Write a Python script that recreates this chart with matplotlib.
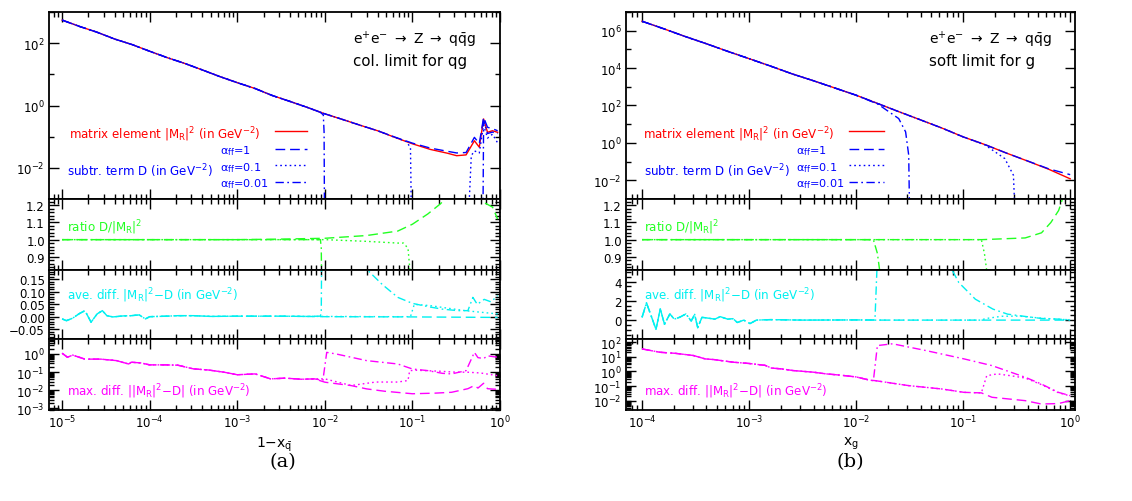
import numpy as np
import matplotlib
matplotlib.use('Agg')
import matplotlib.pyplot as plt
from matplotlib.ticker import (LogLocator, LogFormatterMathtext, MultipleLocator,
                               FuncFormatter, NullFormatter)

plt.rcParams['font.family'] = 'DejaVu Sans'
plt.rcParams['mathtext.fontset'] = 'dejavusans'
plt.rcParams['mathtext.default'] = 'regular'

# ---------------- (a) collinear limit, x = 1 - x_qbar ----------------
# top panel: |M_R|^2 and subtraction terms D (all coincide at small x)
a_x_head = [1e-5, 1.6e-5, 2.5e-5, 4e-5, 6.3e-5, 1e-4, 1.6e-4, 2.5e-4, 4e-4, 6.3e-4,
            1e-3, 1.6e-3, 2.5e-3, 4e-3, 6.3e-3]
a_me_head = [550, 340, 225, 135, 90, 55, 34, 22.5, 13.8, 8.5, 5.4, 3.5, 2.1, 1.35, 0.87]
a_me_tail_x = [1e-2, 1.6e-2, 2.5e-2, 4e-2, 6.3e-2, 0.1, 0.16, 0.25, 0.32, 0.41, 0.51, 0.58,
               0.65, 0.72, 0.82, 0.94]
a_me_tail = [0.54, 0.355, 0.235, 0.155, 0.095, 0.059, 0.039, 0.0295, 0.0245, 0.026, 0.074,
             0.046, 0.37, 0.138, 0.155, 0.138]
a_d1_tail = [0.54, 0.355, 0.235, 0.155, 0.097, 0.062, 0.043, 0.034, 0.030, 0.031, 0.095,
             0.06, 0.42, 0.2, 0.18, 0.155]
a_d01_tail_x = [1e-2, 1.6e-2, 2.5e-2, 4e-2, 6.3e-2, 8.5e-2, 9.5e-2, 0.1, 0.40, 0.47, 0.51,
                0.58, 0.65, 0.72, 0.82, 0.94]
a_d01_tail = [0.54, 0.355, 0.235, 0.155, 0.095, 0.07, 0.045, 1e-6, 1e-6, 0.0245, 0.035,
              0.03, 0.24, 0.09, 0.12, 0.063]
a_d001_tail_x = [8.9e-3, 9.6e-3, 9.8e-3, 1.0e-2, 0.63, 0.65, 0.72, 0.82, 0.94]
a_d001_tail = [0.6, 0.5, 0.14, 1e-6, 1e-6, 0.32, 0.126, 0.14, 0.126]

# ratio D/|M_R|^2
a_r1_x = [1e-5, 1e-3, 3e-3, 1e-2, 3e-2, 6.8e-2, 0.1, 0.15, 0.21, 0.25, 0.4, 0.6, 0.66, 0.82, 0.94]
a_r1 = [1.0, 1.0, 1.003, 1.008, 1.024, 1.05, 1.09, 1.15, 1.21, 1.25, 1.45, 1.3, 1.216, 1.19, 1.12]
a_r01_x = [1e-5, 1e-2, 3e-2, 6.8e-2, 7.9e-2, 8.9e-2, 9.3e-2, 9.6e-2]
a_r01 = [1.0, 1.0, 0.99, 0.98, 0.98, 0.95, 0.84, 0.5]
a_r001_x = [1e-5, 8.9e-3, 9.1e-3, 9.3e-3]
a_r001 = [1.0, 1.0, 0.95, 0.5]

# average difference
a_ave_x_head = [1.0e-5, 1.12e-5, 1.32e-5, 1.55e-5, 1.82e-5, 2.14e-5, 2.51e-5, 2.88e-5, 3.24e-5,
                3.8e-5, 5.0e-5, 6.17e-5, 7.59e-5, 8.91e-5, 1e-4, 1.58e-4, 2.09e-4, 3.16e-4,
                5.0e-4, 1e-3, 3.16e-3, 6.0e-3]
a_ave_head = [-0.008, -0.015, -0.005, 0.012, 0.025, -0.021, 0.012, 0.025, 0.005, 0.0, 0.004,
              0.005, 0.008, -0.008, 0.001, 0.003, 0.005, 0.005, 0.002, 0.003, 0.003, 0.002]
a_ave1_tail_x = [1e-2, 0.1, 0.3, 0.94]
a_ave1_tail = [0.001, 0.0, -0.001, -0.002]
a_ave01_tail_x = [1e-2, 5e-2, 9.5e-2, 0.105, 0.16, 0.25, 0.4, 0.63, 0.94]
a_ave01_tail = [0.002, 0.001, 0.001, 0.05, 0.045, 0.035, 0.025, 0.018, 0.012]
a_ave001_tail_x = [8.9e-3, 9.1e-3, 9.5e-3, 1.6e-2, 2.5e-2, 3.0e-2, 4.5e-2, 6.8e-2, 0.1, 0.15,
                   0.22, 0.33, 0.43, 0.49, 0.55, 0.66, 0.79, 0.94]
a_ave001_tail = [0.003, 0.02, 1.0, 0.4, 0.25, 0.19, 0.13, 0.078, 0.054, 0.041, 0.031, 0.025,
                 0.025, 0.078, 0.05, 0.07, 0.06, 0.085]

# maximal difference
a_max_x_head = [1e-5, 1.15e-5, 1.32e-5, 1.82e-5, 2.75e-5, 4.17e-5, 5.75e-5, 6.17e-5, 7.94e-5,
                1e-4, 1.5e-4, 2.09e-4, 3.16e-4, 4.68e-4, 7.08e-4, 1e-3, 1.6e-3, 2.4e-3,
                3.55e-3, 5.4e-3, 7.6e-3]
a_max_head = [1.1, 0.66, 0.87, 0.52, 0.52, 0.43, 0.28, 0.35, 0.32, 0.25, 0.25, 0.24, 0.15,
              0.13, 0.098, 0.071, 0.079, 0.042, 0.046, 0.04, 0.042]
a_max1_tail_x = [1e-2, 2e-2, 3e-2, 4.8e-2, 0.1, 0.18, 0.28, 0.43, 0.51, 0.56, 0.65, 0.72, 0.94]
a_max1_tail = [0.0275, 0.0178, 0.0117, 0.0087, 0.0063, 0.0068, 0.0076, 0.012, 0.018, 0.013,
               0.024, 0.012, 0.011]
a_max01_tail_x = [1e-2, 2e-2, 3.8e-2, 6.8e-2, 8.9e-2, 9.3e-2, 0.11, 0.2, 0.3, 0.43, 0.6, 0.94]
a_max01_tail = [0.042, 0.018, 0.028, 0.028, 0.034, 0.12, 0.126, 0.112, 0.1, 0.098, 0.089, 0.063]
a_max001_tail_x = [9.5e-3, 1.05e-2, 1.35e-2, 3.0e-2, 6.8e-2, 0.1, 0.15, 0.22, 0.28, 0.41, 0.51,
                   0.56, 0.65, 0.72, 0.94]
a_max001_tail = [0.035, 1.23, 1.0, 0.43, 0.28, 0.148, 0.12, 0.085, 0.079, 0.12, 1.23, 0.63,
                 0.56, 0.79, 0.66]

# ---------------- (b) soft limit, x = x_g ----------------
b_x_head = [1e-4, 1.6e-4, 2.5e-4, 4e-4, 6.3e-4, 1e-3, 1.6e-3, 2.5e-3, 4e-3, 6.3e-3, 1e-2]
b_me_head = [3.2e6, 1.26e6, 5.0e5, 2.0e5, 7.9e4, 3.2e4, 1.26e4, 5.0e3, 2.1e3, 870, 355]
b_me_tail_x = [1.6e-2, 2.5e-2, 4e-2, 6.3e-2, 0.1, 0.16, 0.25, 0.4, 0.63, 1.0]
b_me_tail = [126, 47, 17, 6.3, 2.1, 0.81, 0.295, 0.107, 0.039, 0.012]
b_d1_tail = [126, 47, 17, 6.3, 2.1, 0.81, 0.295, 0.108, 0.041, 0.02]
b_d01_tail_x = [1.6e-2, 2.5e-2, 4e-2, 6.3e-2, 0.1, 0.16, 0.245, 0.295, 0.316]
b_d01_tail = [126, 47, 17, 6.3, 2.1, 0.78, 0.145, 0.0186, 1e-6]
b_d001_tail_x = [1.6e-2, 2.5e-2, 2.9e-2, 3.1e-2, 3.2e-2]
b_d001_tail = [118, 20, 3.9, 0.22, 1e-6]

b_r1_x = [1e-4, 0.15, 0.38, 0.54, 0.66, 0.78, 0.83, 0.9]
b_r1 = [1.0, 1.0, 1.01, 1.04, 1.10, 1.17, 1.22, 1.3]
b_r01_x = [1e-4, 0.148, 0.158, 0.166, 0.17]
b_r01 = [1.0, 1.0, 0.92, 0.82, 0.5]
b_r001_x = [1e-4, 1.45e-2, 1.58e-2, 1.66e-2, 1.7e-2]
b_r001 = [1.0, 1.0, 0.92, 0.82, 0.5]

b_ave_x_head = [1.0e-4, 1.1e-4, 1.35e-4, 1.48e-4, 1.62e-4, 1.82e-4, 2.0e-4, 2.24e-4, 2.57e-4,
                2.88e-4, 3.1e-4, 3.31e-4, 3.63e-4, 4.17e-4, 4.79e-4, 5.37e-4, 6.31e-4, 7.08e-4,
                7.76e-4, 8.91e-4, 1.02e-3, 1.17e-3, 1.58e-3, 3.16e-3, 1.0e-2]
b_ave_head = [0.29, 1.79, -0.96, 1.18, -0.43, 0.64, 0.1, 0.29, 0.64, -0.1, 0.6, -0.79, 0.29,
              0.2, 0.1, 0.36, 0.1, 0.15, -0.25, 0.0, -0.36, 0.0, 0.05, 0.0, 0.02]
b_ave1_tail_x = [1.4e-2, 0.1, 1.0]
b_ave1_tail = [0.0, 0.0, 0.0]
b_ave01_tail_x = [1.4e-2, 0.148, 0.16, 0.23, 0.33, 0.54, 1.0]
b_ave01_tail = [0.0, 0.0, 0.15, 0.4, 0.42, 0.2, 0.02]
b_ave001_tail_x = [1.45e-2, 1.5e-2, 1.6e-2, 3e-2, 6e-2, 7.8e-2, 9.1e-2, 0.13, 0.19, 0.26, 0.38,
                   0.54, 0.78, 1.0]
b_ave001_tail = [0.02, 0.05, 8.0, 10.0, 7.0, 5.3, 3.9, 2.17, 1.14, 0.62, 0.38, 0.17, 0.1, 0.03]

b_max_x_head = [1e-4, 1.48e-4, 2.04e-4, 3.02e-4, 3.89e-4, 4.68e-4, 7.08e-4, 1e-3, 1.41e-3,
                1.62e-3, 2.0e-3, 2.57e-3, 3.98e-3, 5.25e-3, 7.08e-3, 1e-2, 1.35e-2]
b_max_head = [34.7, 20.4, 17.4, 12.3, 7.2, 6.5, 4.3, 3.5, 2.6, 1.7, 1.5, 1.15, 0.89, 0.68,
              0.56, 0.42, 0.25]
b_max1_tail_x = [1.51e-2, 3.09e-2, 6.31e-2, 0.102, 0.148, 0.186, 0.38, 0.537, 0.776, 1.0]
b_max1_tail = [0.234, 0.107, 0.063, 0.037, 0.034, 0.017, 0.01, 0.0059, 0.0063, 0.01]
b_max01_tail_x = [1.51e-2, 3.09e-2, 6.31e-2, 0.102, 0.148, 0.166, 0.209, 0.282, 0.38, 0.537,
                  0.776, 1.0]
b_max01_tail = [0.234, 0.107, 0.063, 0.037, 0.034, 0.51, 0.68, 0.5, 0.355, 0.126, 0.035, 0.021]
b_max001_tail_x = [1.45e-2, 1.58e-2, 2.19e-2, 4.47e-2, 0.102, 0.186, 0.38, 0.537, 0.776, 1.0]
b_max001_tail = [0.234, 59, 78, 27, 7.2, 2.5, 0.4, 0.138, 0.037, 0.022]

alpha_labels = [r'$\alpha_{\rm ff}$=1', r'$\alpha_{\rm ff}$=0.1', r'$\alpha_{\rm ff}$=0.01']

# ---------------- styles ----------------
RED, BLUE, GREEN, CYAN, MAGENTA = '#ff0000', '#0000ff', '#22ff22', '#00f0f0', '#ff00ff'
LS1 = (0, (7, 3.5))
LS01 = (0, (1.2, 2.2))
LS001 = (0, (6, 2.5, 1.2, 2.5))
LW = 1.0
TXT = 8.6
TICK = 8.5

W, H = 1132, 502
fig = plt.figure(figsize=(W / 100, H / 100), dpi=100)


def add_px_axes(x0, y0, x1, y1):
    return fig.add_axes([x0 / W, 1 - y1 / H, (x1 - x0) / W, (y1 - y0) / H])


def cat(*parts):
    return np.concatenate([np.asarray(p, dtype=float) for p in parts])


def style(ax, xlim, bottom):
    ax.set_xscale('log')
    ax.set_xlim(*xlim)
    ax.xaxis.set_major_locator(LogLocator(base=10, numticks=12))
    ax.xaxis.set_minor_locator(LogLocator(base=10, subs=np.arange(2, 10), numticks=12))
    ax.xaxis.set_major_formatter(LogFormatterMathtext(base=10))
    ax.xaxis.set_minor_formatter(NullFormatter())
    ax.tick_params(which='both', direction='in', top=True, right=True, width=1.0,
                   labelsize=TICK, colors='black')
    ax.tick_params(which='major', length=7.5, pad=3)
    ax.tick_params(which='minor', length=3.5)
    for s in ax.spines.values():
        s.set_linewidth(1.3)
    if not bottom:
        ax.tick_params(labelbottom=False)


def minus_fmt(fmt):
    return FuncFormatter(lambda v, p: (fmt % v).replace('-', '\u2212'))


def draw_column(x0, x1, xlim, d, top_ylim, ave_ylim, ave_step, ave_fmt, max_ylim, xlabel):
    rows = [(13, 200), (200, 271), (271, 340), (340, 411)]
    ax_top, ax_r, ax_a, ax_m = [add_px_axes(x0, r0, x1, r1) for r0, r1 in rows]

    # top: matrix element and subtraction terms
    ax_top.set_yscale('log')
    ax_top.plot(cat(d['xh'], d['me_tx']), cat(d['meh'], d['me_t']), color=RED, lw=LW)
    ax_top.plot(cat(d['xh'], d['me_tx']), cat(d['meh'], d['d1_t']), color=BLUE, lw=LW, ls=LS1)
    ax_top.plot(cat(d['xh'], d['d01_tx']), cat(d['meh'], d['d01_t']), color=BLUE, lw=LW, ls=LS01)
    ax_top.plot(cat(d['xh'], d['d001_tx']), cat(d['meh'], d['d001_t']), color=BLUE, lw=LW, ls=LS001)
    ax_top.set_ylim(*top_ylim)
    ax_top.yaxis.set_major_locator(LogLocator(base=100, numticks=12))
    ax_top.yaxis.set_minor_locator(LogLocator(base=10, subs=(1.0,), numticks=20))
    ax_top.yaxis.set_major_formatter(LogFormatterMathtext(base=10))
    ax_top.yaxis.set_minor_formatter(NullFormatter())

    # legend: label text to the left, line sample to the right
    kx0, kx1, tx_alpha, tx_me = d['key']
    tr = ax_top.transAxes
    ax_top.text(tx_me, 0.365, r'matrix element |M$_{\rm R}$|$^2$ (in GeV$^{-2}$)', transform=tr,
                color=RED, fontsize=TXT, ha='right', va='center_baseline')
    ax_top.plot([kx0, kx1], [0.365, 0.365], transform=tr, color=RED, lw=LW)
    for lab, ls, ky in zip(alpha_labels, (LS1, LS01, LS001), (0.27, 0.182, 0.093)):
        ax_top.text(tx_alpha, ky, lab, transform=tr, color=BLUE, fontsize=8.1,
                    ha='left', va='center_baseline')
        ax_top.plot([kx0, kx1], [ky, ky], transform=tr, color=BLUE, lw=LW, ls=ls)
    ax_top.text(0.04, 0.166, r'subtr. term D (in GeV$^{-2}$)', transform=tr,
                color=BLUE, fontsize=TXT, va='center_baseline')
    ax_top.text(0.674, 0.856, r'e$^{+}$e$^{-}$ $\rightarrow$ Z $\rightarrow$ q$\bar{\rm q}$g',
                transform=tr, fontsize=10, va='center')
    ax_top.text(0.674, 0.738, d['limit'], transform=tr, fontsize=10.8, va='center')

    # ratio
    ax_r.plot(d['r1_x'], d['r1'], color=GREEN, lw=LW, ls=LS1)
    ax_r.plot(d['r01_x'], d['r01'], color=GREEN, lw=LW, ls=LS01)
    ax_r.plot(d['r001_x'], d['r001'], color=GREEN, lw=LW, ls=LS001)
    ax_r.set_ylim(0.823, 1.237)
    ax_r.yaxis.set_major_locator(MultipleLocator(0.1))
    ax_r.yaxis.set_minor_locator(MultipleLocator(0.02))
    ax_r.yaxis.set_major_formatter(minus_fmt('%.1f'))
    ax_r.text(0.04, 0.65, r'ratio D/|M$_{\rm R}$|$^2$', transform=ax_r.transAxes,
              color=GREEN, fontsize=TXT, va='center_baseline')

    # average difference
    ax_a.plot(cat(d['ah_x'], d['a1_tx']), cat(d['ah'], d['a1_t']), color=CYAN, lw=LW, ls=LS1)
    ax_a.plot(cat(d['ah_x'], d['a01_tx']), cat(d['ah'], d['a01_t']), color=CYAN, lw=LW, ls=LS01)
    ax_a.plot(cat(d['ah_x'], d['a001_tx']), cat(d['ah'], d['a001_t']), color=CYAN, lw=LW, ls=LS001)
    ax_a.set_ylim(*ave_ylim)
    ax_a.yaxis.set_major_locator(MultipleLocator(ave_step[0]))
    ax_a.yaxis.set_minor_locator(MultipleLocator(ave_step[1]))
    ax_a.yaxis.set_major_formatter(minus_fmt(ave_fmt))
    ax_a.text(0.04, 0.68, r'ave. diff. |M$_{\rm R}$|$^2$$-$D (in GeV$^{-2}$)',
              transform=ax_a.transAxes, color=CYAN, fontsize=TXT, va='center_baseline')

    # maximal difference
    ax_m.set_yscale('log')
    ax_m.plot(cat(d['mh_x'], d['m1_tx']), cat(d['mh'], d['m1_t']), color=MAGENTA, lw=LW, ls=LS1)
    ax_m.plot(cat(d['mh_x'], d['m01_tx']), cat(d['mh'], d['m01_t']), color=MAGENTA, lw=LW, ls=LS01)
    ax_m.plot(cat(d['mh_x'], d['m001_tx']), cat(d['mh'], d['m001_t']), color=MAGENTA, lw=LW, ls=LS001)
    ax_m.set_ylim(*max_ylim)
    ax_m.yaxis.set_major_locator(LogLocator(base=10, numticks=12))
    ax_m.yaxis.set_minor_locator(LogLocator(base=10, subs=np.arange(2, 10), numticks=12))
    ax_m.yaxis.set_major_formatter(LogFormatterMathtext(base=10))
    ax_m.yaxis.set_minor_formatter(NullFormatter())
    ax_m.text(0.04, 0.31, r'max. diff. ||M$_{\rm R}$|$^2$$-$D| (in GeV$^{-2}$)',
              transform=ax_m.transAxes, color=MAGENTA, fontsize=TXT, va='center_baseline')

    for ax in (ax_top, ax_r, ax_a, ax_m):
        style(ax, xlim, ax is ax_m)
    ax_m.set_xlabel(xlabel, fontsize=10, labelpad=3)


data_a = dict(xh=a_x_head, meh=a_me_head, me_tx=a_me_tail_x, me_t=a_me_tail, d1_t=a_d1_tail,
              d01_tx=a_d01_tail_x, d01_t=a_d01_tail, d001_tx=a_d001_tail_x, d001_t=a_d001_tail,
              r1_x=a_r1_x, r1=a_r1, r01_x=a_r01_x, r01=a_r01, r001_x=a_r001_x, r001=a_r001,
              ah_x=a_ave_x_head, ah=a_ave_head, a1_tx=a_ave1_tail_x, a1_t=a_ave1_tail,
              a01_tx=a_ave01_tail_x, a01_t=a_ave01_tail, a001_tx=a_ave001_tail_x,
              a001_t=a_ave001_tail,
              mh_x=a_max_x_head, mh=a_max_head, m1_tx=a_max1_tail_x, m1_t=a_max1_tail,
              m01_tx=a_max01_tail_x, m01_t=a_max01_tail, m001_tx=a_max001_tail_x,
              m001_t=a_max001_tail, limit='col. limit for qg',
              key=(0.501, 0.572, 0.38, 0.468))

data_b = dict(xh=b_x_head, meh=b_me_head, me_tx=b_me_tail_x, me_t=b_me_tail, d1_t=b_d1_tail,
              d01_tx=b_d01_tail_x, d01_t=b_d01_tail, d001_tx=b_d001_tail_x, d001_t=b_d001_tail,
              r1_x=b_r1_x, r1=b_r1, r01_x=b_r01_x, r01=b_r01, r001_x=b_r001_x, r001=b_r001,
              ah_x=b_ave_x_head, ah=b_ave_head, a1_tx=b_ave1_tail_x, a1_t=b_ave1_tail,
              a01_tx=b_ave01_tail_x, a01_t=b_ave01_tail, a001_tx=b_ave001_tail_x,
              a001_t=b_ave001_tail,
              mh_x=b_max_x_head, mh=b_max_head, m1_tx=b_max1_tail_x, m1_t=b_max1_tail,
              m01_tx=b_max01_tail_x, m01_t=b_max01_tail, m001_tx=b_max001_tail_x,
              m001_t=b_max001_tail, limit='soft limit for g',
              key=(0.496, 0.574, 0.378, 0.465))

draw_column(49, 500, (10 ** -5.15, 1.0), data_a, (1e-3, 1e3),
            (-0.088, 0.187), (0.05, 0.01), '%.2f', (10 ** -3.1, 10 ** 0.83),
            r'1$-$x$_{\bar{\rm q}}$')
draw_column(626, 1075, (10 ** -4.15, 10 ** 0.045), data_b, (1e-3, 1e7),
            (-1.96, 5.2), (2, 0.5), '%.0f', (10 ** -2.64, 10 ** 2.22),
            r'x$_{\rm g}$')

fig.text(283 / W, 1 - 462 / H, '(a)', fontsize=14, family='DejaVu Serif', ha='center', va='center')
fig.text(850 / W, 1 - 462 / H, '(b)', fontsize=14, family='DejaVu Serif', ha='center', va='center')

fig.savefig('out.png', dpi=100)
